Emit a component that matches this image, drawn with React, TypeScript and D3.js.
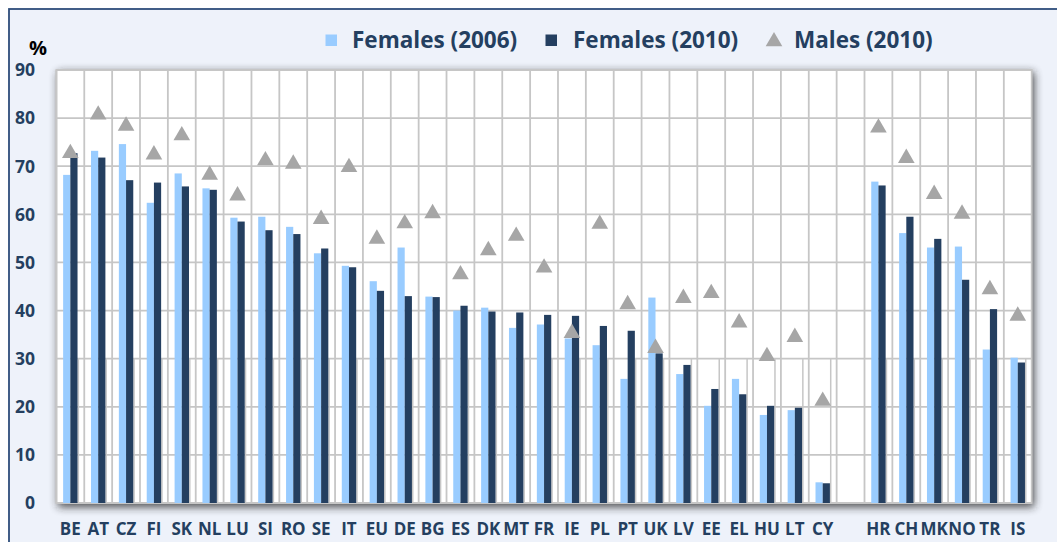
import React from "react";
import * as d3 from "d3";

const categories = ["BE","AT","CZ","FI","SK","NL","LU","SI","RO","SE","IT","EU","DE","BG","ES","DK","MT","FR","IE","PL","PT","UK","LV","EE","EL","HU","LT","CY","HR","CH","MK","NO","TR","IS"];
const females2006 = [68.2,73.2,74.6,62.4,68.5,65.4,59.3,59.5,57.4,51.9,49.3,46.1,53.1,42.9,40.0,40.6,36.4,37.1,34.2,32.8,25.8,42.7,26.8,20.2,25.8,18.3,19.3,4.3,66.8,56.1,53.1,53.3,31.9,30.2];
const females2010 = [72.7,71.8,67.1,66.6,65.8,65.1,58.5,56.7,55.9,52.9,49.0,44.1,43.0,42.8,41.0,39.8,39.6,39.1,38.9,36.8,35.8,31.1,28.7,23.7,22.6,20.2,19.8,4.1,66.0,59.5,54.9,46.4,40.3,29.2];
const males2010 = [73.0,81.0,78.7,72.7,76.7,68.5,64.2,71.5,70.8,59.3,70.1,55.2,58.4,60.5,47.8,52.8,55.8,49.2,35.6,58.3,41.6,32.5,42.9,43.9,37.8,30.8,34.8,21.5,78.3,72.0,64.5,60.4,44.7,39.2];
const yTicks = [0,10,20,30,40,50,60,70,80,90];
const gapAfter = "CY";
const seriesNames = ["Females (2006)", "Females (2010)", "Males (2010)"];

const W = 1057, H = 542;
const C_LIGHT = "#99CCFF";
const C_DARK = "#243F60";
const C_TRI = "#A6A6A6";
const C_TEXT = "#243F60";
const C_GRID = "#C6C6C6";
const FONT = "'Open Sans', 'DejaVu Sans', sans-serif";

export default function App() {
  const domain: string[] = [];
  categories.forEach((c) => {
    domain.push(c);
    if (c === gapAfter) domain.push("__gap");
  });
  const left = 56.4, right = 1031.7, top = 70, bottom = 503;
  const x = d3.scaleBand<string>().domain(domain).range([left, right]).padding(0);
  const y = d3.scaleLinear().domain([0, 90]).range([bottom, top]);
  const bw = 7.2;
  const tri = d3.symbol().type(d3.symbolTriangle).size(120)();

  return (
    <svg width={W} height={H} style={{ position: "absolute", left: 0, top: 0 }} fontFamily={FONT}>
      <defs>
        <filter id="sh" x="-10%" y="-10%" width="120%" height="120%">
          <feGaussianBlur stdDeviation="4.5" />
        </filter>
      </defs>
      <rect x={0} y={0} width={W} height={H} fill="#ffffff" />
      <rect x={9} y={9} width={W + 20} height={H + 20} fill="#EEF2FA" stroke="#2E4D7B" strokeWidth={1.8} />
      {/* shadow */}
      <rect x={left + 1.5} y={top + 2} width={right - left + 1} height={bottom - top + 2} fill="#222" opacity={0.8} filter="url(#sh)" />
      <rect x={left} y={top} width={right - left} height={bottom - top} fill="#ffffff" />
      {/* horizontal grid */}
      {yTicks.map((t) => (
        <line key={"h" + t} x1={left} x2={right} y1={y(t)} y2={y(t)} stroke={C_GRID} strokeWidth={1.8} />
      ))}
      {/* vertical grid */}
      {domain.map((d) => (
        <line key={"v" + d} x1={x(d)!} x2={x(d)!} y1={top} y2={bottom} stroke={C_GRID} strokeWidth={1.8} />
      ))}
      {/* lower extra lines */}
      {categories.map((c) => {
        const cx = x(c)! + x.bandwidth() / 2 + bw + 0.8;
        return <line key={"e" + c} x1={cx} x2={cx} y1={y(30)} y2={bottom} stroke={C_GRID} strokeWidth={1.5} />;
      })}
      <rect x={left} y={top} width={right - left} height={bottom - top} fill="none" stroke={C_GRID} strokeWidth={1.8} />
      {/* bars */}
      {categories.map((c, i) => {
        const cx = x(c)! + x.bandwidth() / 2;
        return (
          <g key={"b" + c}>
            <rect x={cx - bw} y={y(females2006[i])} width={bw} height={bottom - y(females2006[i])} fill={C_LIGHT} />
            <rect x={cx} y={y(females2010[i])} width={bw} height={bottom - y(females2010[i])} fill={C_DARK} />
          </g>
        );
      })}
      {/* triangles */}
      {categories.map((c, i) => {
        const cx = x(c)! + x.bandwidth() / 2;
        return <path key={"t" + c} d={tri!} transform={`translate(${cx},${y(males2010[i]) + 1.5})`} fill={C_TRI} />;
      })}
      {/* y labels */}
      {yTicks.map((t) => (
        <text key={"yl" + t} x={35} y={y(t)} dy="0.36em" textAnchor="end" fontSize={17.5} fontWeight={700} fill={C_TEXT}>{t}</text>
      ))}
      <text x={38} y={55} textAnchor="middle" fontSize={20} fontWeight={700} fill="#000">%</text>
      {/* x labels */}
      {categories.map((c) => (
        <text key={"xl" + c} x={x(c)! + x.bandwidth() / 2} y={535} textAnchor="middle" fontSize={17} fontWeight={700} fill={C_TEXT}>{c}</text>
      ))}
      {/* legend */}
      <rect x={325.5} y={34.5} width={11.5} height={11.5} fill={C_LIGHT} />
      <text x={352} y={48} fontSize={22.5} fontWeight={700} fill={C_TEXT}>{seriesNames[0]}</text>
      <rect x={545.5} y={34.5} width={11.5} height={11.5} fill={C_DARK} />
      <text x={573} y={48} fontSize={22.5} fontWeight={700} fill={C_TEXT}>{seriesNames[1]}</text>
      <path d={tri!} transform="translate(774,41.5)" fill={C_TRI} />
      <text x={794} y={48} fontSize={22.5} fontWeight={700} fill={C_TEXT}>{seriesNames[2]}</text>
    </svg>
  );
}
